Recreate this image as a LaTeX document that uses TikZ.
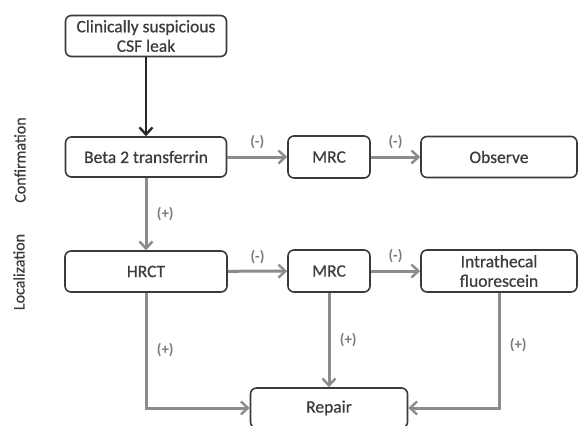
\documentclass[tikz,border=0pt]{standalone}
\usepackage{fontspec}
\setmainfont{Carlito}[BoldFont=Carlito,BoldFeatures={FakeBold=0.7}]
\newfontfamily\labfont{Carlito Bold}
\usetikzlibrary{arrows.meta}
\definecolor{txt}{HTML}{3C3C3C}
\definecolor{edge}{HTML}{3A3A3A}
\definecolor{arr}{HTML}{8C8C8C}
\definecolor{labc}{HTML}{7A7A7A}
\begin{document}
\begin{tikzpicture}[x=1pt,y=-1pt,
  font=\fontsize{17.5}{19.5}\selectfont\bfseries,
  box/.style={draw=edge,line width=1.6pt,rounded corners=6pt,align=center,text=txt,inner sep=0pt},
  garr/.style={draw=arr,line width=3pt,-{Straight Barb[length=7pt,width=13pt,line width=2.4pt]}},
  barr/.style={draw=black!85,line width=2.8pt,-{Straight Barb[length=7pt,width=13pt,line width=2.4pt]}},
  lab/.style={text=labc,font=\labfont\fontsize{15}{17}\selectfont},
  side/.style={text=txt,rotate=90,font=\fontsize{16}{18}\selectfont\bfseries}]
\useasboundingbox (0,0) rectangle (579,426);
\node[box,minimum width=161pt,minimum height=41pt] (top) at (146,36) {Clinically suspicious\\CSF leak};
\node[box,minimum width=161pt,minimum height=40pt] (beta) at (146,157) {Beta 2 transferrin};
\node[box,minimum width=82pt,minimum height=42pt] (mrc1) at (329,157) {MRC};
\node[box,minimum width=156pt,minimum height=41pt] (obs) at (499,157) {Observe};
\node[box,minimum width=162pt,minimum height=41pt] (hrct) at (146,271.5) {HRCT};
\node[box,minimum width=82pt,minimum height=42pt] (mrc2) at (329,271) {MRC};
\node[box,minimum width=156pt,minimum height=42pt] (ith) at (499,271) {Intrathecal\\fluorescein};
\node[box,minimum width=157pt,minimum height=40pt] (rep) at (329,408) {Repair};
\node[side] (conf) at (20,160) {Confirmation};
\node[side] (loc) at (19,272) {Localization};
\draw[barr] (top) -- (beta);
\draw[garr] (beta) -- (mrc1) node[lab,midway,above=3pt] {(-)};
\draw[garr] (mrc1) -- (obs) node[lab,midway,above=3pt] {(-)};
\draw[garr] (beta) -- (hrct) node[lab,midway,right=6pt] {(+)};
\draw[garr] (hrct) -- (mrc2) node[lab,midway,above=3pt] {(-)};
\draw[garr] (mrc2) -- (ith) node[lab,midway,above=3pt] {(-)};
\coordinate (hc) at (hrct.south |- rep.west);
\coordinate (ic) at (ith.south |- rep.east);
\draw[garr] (hrct.south) -- (hc) node[lab,pos=0.5,right=6pt] {(+)} -- (rep.west);
\draw[garr] (mrc2) -- (rep) node[lab,midway,right=6pt] {(+)};
\draw[garr] (ith.south) -- (ic) node[lab,pos=0.45,right=6pt] {(+)} -- (rep.east);
\end{tikzpicture}
\end{document}
